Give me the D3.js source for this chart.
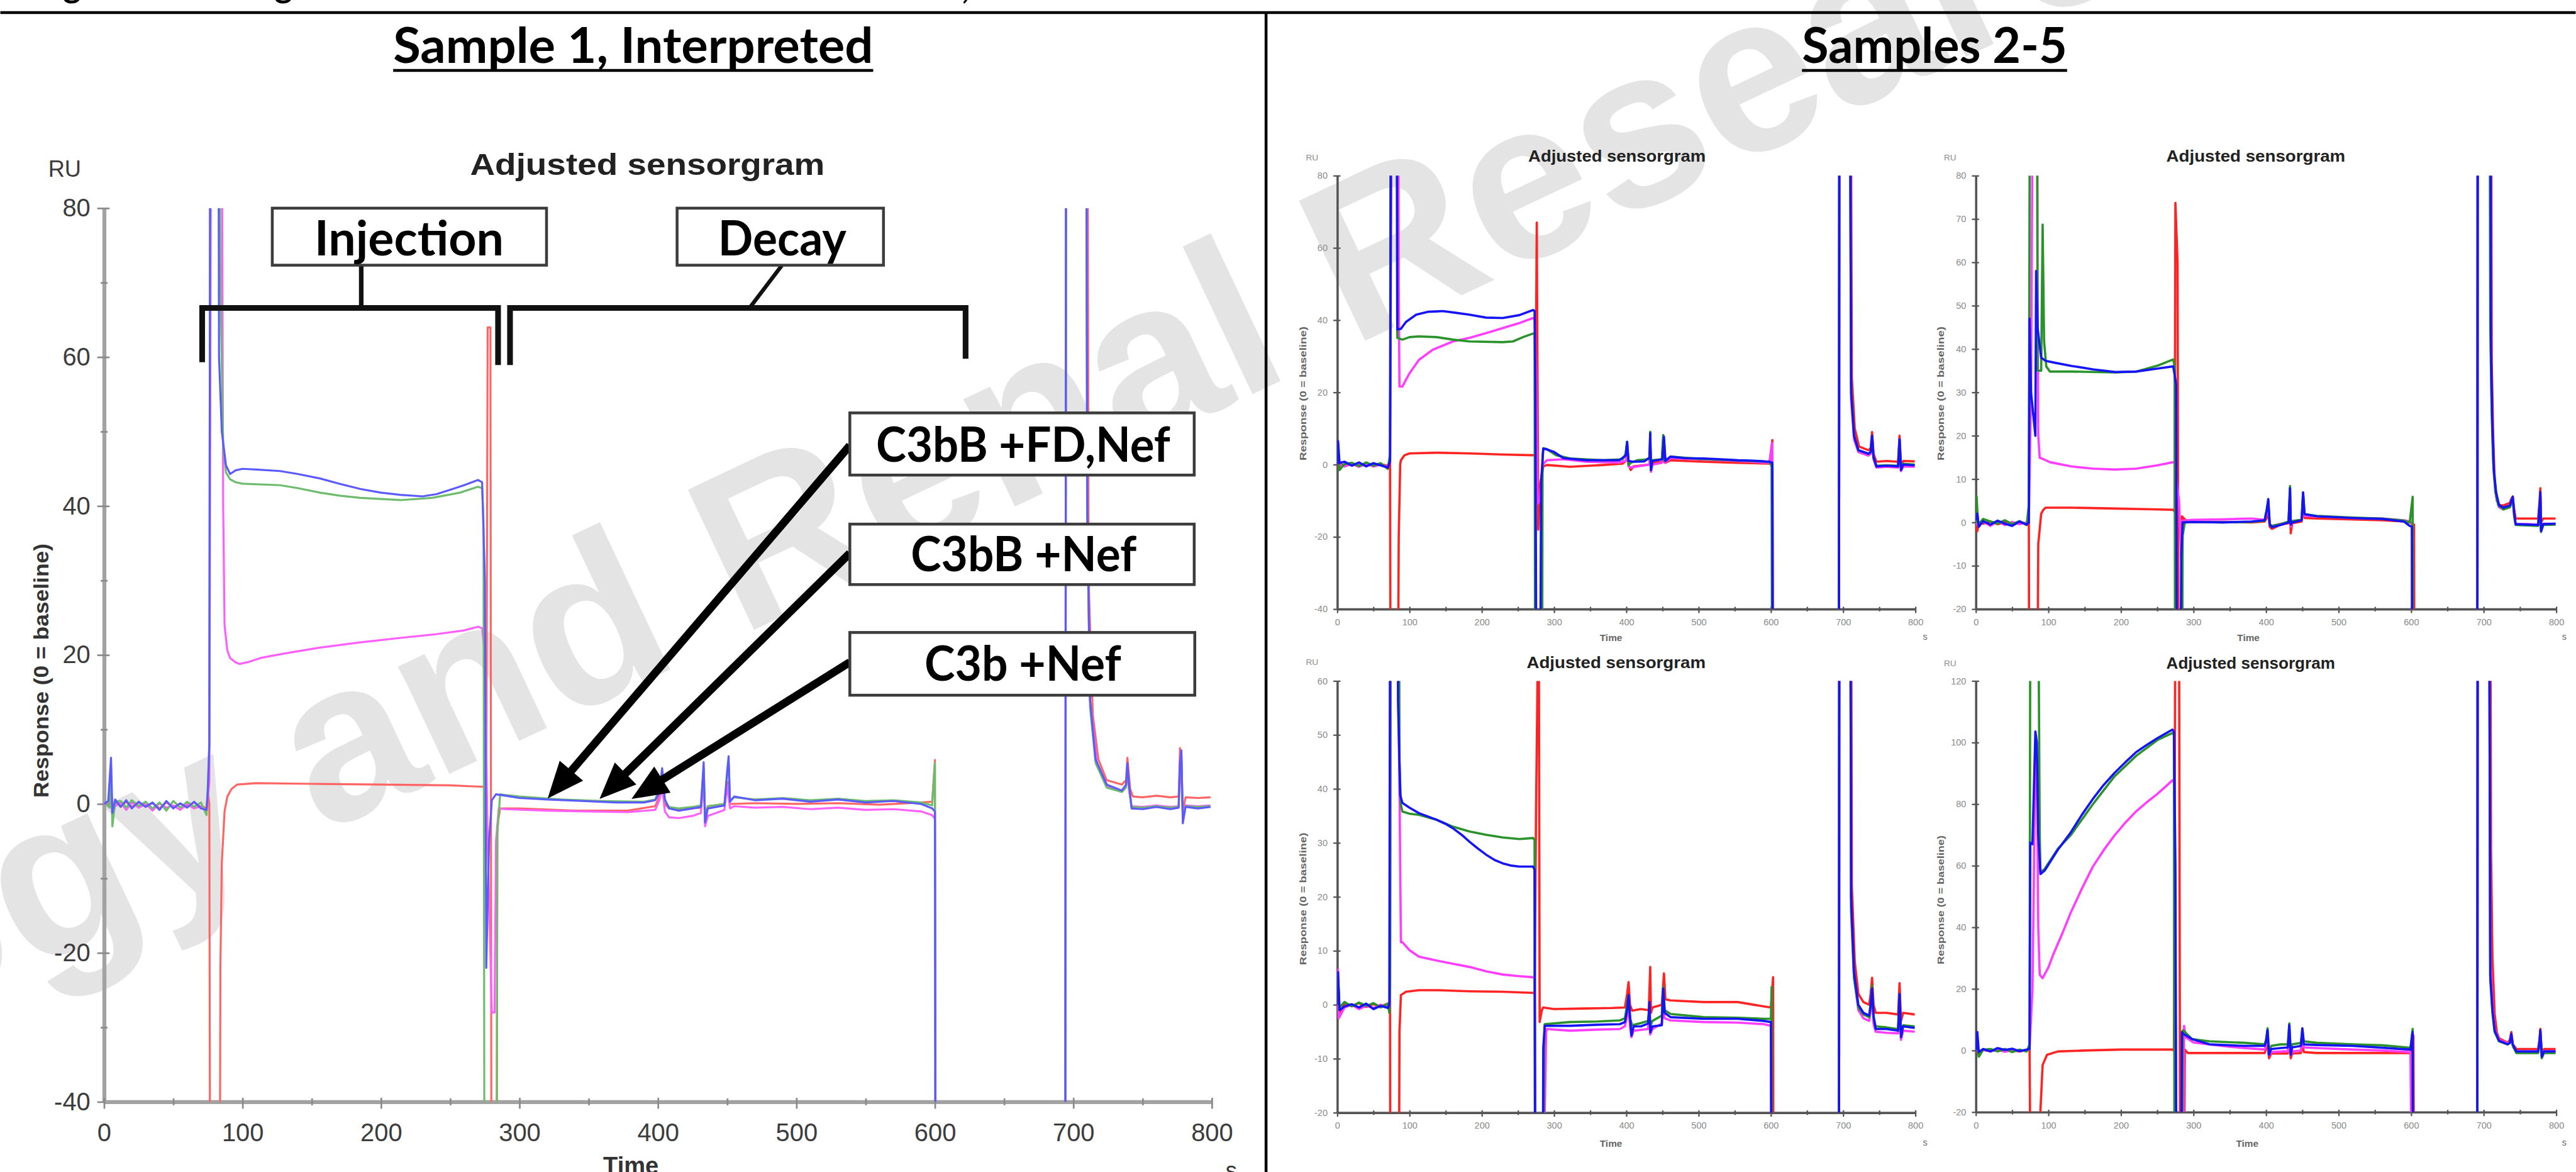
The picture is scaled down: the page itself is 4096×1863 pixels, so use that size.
<!DOCTYPE html>
<html><head><meta charset="utf-8">
<script src="https://cdn.jsdelivr.net/npm/d3@7/dist/d3.min.js"></script>
<style>html,body{margin:0;padding:0;background:#fff;overflow:hidden}</style>
</head><body>
<script>
// ---------------- DATA ----------------
const xTicks = [0,100,200,300,400,500,600,700,800];
const xMinor = [50,150,250,350,450,550,650,750];
const s1YTicks = [-40,-20,0,20,40,60,80];
const s1YMinor = [-30,-10,10,30,50,70];
const p2YTicks = [-40,-20,0,20,40,60,80];
const p3YTicks = [-20,-10,0,10,20,30,40,50,60,70,80];
const p4YTicks = [-20,-10,0,10,20,30,40,50,60];
const p5YTicks = [-20,0,20,40,60,80,100,120];
const seriesNames = ["red","magenta","green","blue"];
const boxLabels = ["Injection","Decay","C3bB +FD,Nef","C3bB +Nef","C3b +Nef"];

// Sample 1 (time s, response RU)
const s1Blue = [[0,0],[3,0.4],[5,6.2],[6,-1.2],[8,0.6],[12,-0.4],[16,0.5],[20,-0.6],[25,0.3],[30,-0.4],[35,0.2],[40,-0.8],[45,0.4],[50,-0.6],[55,0.1],[60,-0.5],[65,0.3],[70,-0.6],[74,-0.8],[75,2],[76,8],[77,150],[82,150],[83,60],[85,50],[88,45.5],[91,44.3],[95,44.8],[100,45],[110,44.9],[127,44.7],[140,44.3],[156,43.7],[170,43],[185,42.3],[200,41.8],[214,41.5],[230,41.3],[240,41.6],[250,42.2],[260,42.8],[270,43.5],[273,43.2],[275,30],[276,-22],[278,-5],[280,0.5],[283,1.3],[290,1.1],[300,0.8],[320,0.6],[345,0.4],[370,0.2],[390,0.2],[398,0.5],[401,1.5],[403,4.8],[405,0.6],[408,-0.6],[415,-0.9],[425,-0.6],[431,-0.4],[433,5.6],[434,-2.5],[436,-0.6],[448,-0.2],[450,4.5],[451,6.4],[452,0.3],[455,1],[470,0.5],[490,0.7],[510,0.3],[530,0.6],[550,0.2],[570,0.4],[590,0],[598,-0.6],[600,-1],[601,-100],[694,-100],[695,200],[708,200],[710,40],[712,14],[716,6],[724,2.6],[735,1.8],[738,2.6],[739,5.5],[740,3],[742,-0.6],[750,-0.7],[760,-0.4],[770,-0.7],[776,-0.5],[777,5.5],[778,7.2],[779,-2.6],[781,-0.4],[790,-0.6],[799,-0.4]];
const s1Green = [[0,0.2],[4,-0.5],[5,5],[6,-3],[8,0.3],[12,0.4],[16,-0.5],[20,0.5],[25,-0.3],[30,0.3],[35,-0.6],[40,0.2],[45,-0.9],[50,0.4],[55,-0.5],[60,0.3],[65,-0.4],[70,0.2],[74,-1.5],[75,3],[76,8],[77,150],[82,150],[84,70],[86,48],[88,44.5],[91,43.6],[95,43.2],[100,43],[127,42.8],[140,42.4],[156,41.8],[170,41.4],[185,41.1],[214,40.8],[237,41.1],[257,41.8],[270,42.6],[273,42.4],[274,38],[275,-100],[283,-100],[284,-4],[286,1.3],[290,1.2],[300,1],[330,0.6],[360,0.4],[390,0.3],[398,0.6],[401,2],[403,4.2],[405,0.4],[408,-0.4],[415,-0.6],[425,-0.4],[431,-0.2],[433,4.8],[434,-1.8],[436,-0.3],[448,0],[450,4],[451,5.6],[452,0.4],[455,0.9],[470,0.6],[490,0.8],[510,0.5],[530,0.7],[550,0.4],[570,0.5],[590,0.2],[598,-0.2],[600,5.5],[600.5,-100],[694,-100],[695,200],[708,200],[710,38],[712,13],[716,5.5],[724,2.2],[735,1.6],[738,2.2],[739,5],[740,2.5],[742,-0.4],[750,-0.5],[760,-0.3],[770,-0.5],[776,-0.4],[777,5],[778,6.5],[779,-2],[781,-0.3],[790,-0.4],[799,-0.3]];
const s1Magenta = [[0,-0.2],[4,0.5],[5,2],[6,-1.5],[8,-0.3],[12,0.2],[16,-0.8],[20,0.2],[25,-0.5],[30,0],[35,-0.9],[40,0.1],[45,-0.5],[50,-0.2],[55,-0.8],[60,0],[65,-0.6],[70,-0.3],[74,-0.9],[75,1],[76,3],[78,150],[84,150],[86,40],[87,24],[89,20.6],[91,19.6],[95,19],[98,18.8],[105,19.1],[113,19.6],[130,20.2],[156,21],[185,21.7],[214,22.3],[240,22.8],[260,23.3],[270,23.8],[273,23.6],[275,20],[277,-5],[280,-28],[282,-28],[283,-5],[285,-0.6],[290,-0.7],[320,-0.9],[350,-1],[378,-1.1],[398,-0.8],[401,0.5],[403,2.2],[405,-1],[408,-1.8],[415,-1.9],[425,-1.6],[431,-1.2],[433,3.5],[434,-3],[436,-1.6],[448,-0.8],[450,2.5],[452,-0.6],[455,-0.3],[470,-0.5],[490,-0.4],[510,-0.7],[530,-0.5],[550,-0.8],[570,-0.7],[590,-1],[598,-1.5],[600,-2],[601,-100],[694,-100],[695,200],[708,200],[710,40],[712,14],[717,5.5],[725,2.3],[735,1.7],[738,2.3],[739,4.8],[740,2],[742,-0.3],[750,-0.4],[760,-0.2],[770,-0.4],[776,-0.3],[777,5.2],[778,6],[779,-1.8],[781,-0.2],[790,-0.3],[799,-0.2]];
const s1Red = [[0,0],[4,0.3],[5,3.5],[6,-2],[8,0.2],[12,-0.3],[16,0.3],[20,-0.4],[25,0.2],[30,-0.3],[35,0.1],[40,-0.6],[45,0.2],[50,-0.4],[55,0],[60,-0.3],[65,0.2],[70,-0.4],[74,-0.5],[75,1.5],[76,0],[77,-100],[83,-100],[84,-22],[85,-8],[87,-1],[89,1],[92,2],[96,2.6],[110,2.8],[150,2.7],[200,2.6],[250,2.5],[274,2.3],[276,1.5],[277,64],[279,64],[280,-100],[283,-100],[284,-3],[286,-0.6],[300,-0.6],[340,-0.9],[378,-0.9],[398,-0.3],[401,1],[403,2.8],[405,0],[408,-0.6],[415,-0.7],[431,-0.5],[433,3],[434,-1.5],[436,-0.3],[448,0],[450,3],[452,0],[470,0.1],[500,0],[530,0.1],[560,-0.1],[590,0.2],[598,0.3],[600,5.9],[600.5,-100],[694,-100],[695,200],[709,200],[711,30],[714,12],[718,6],[724,3.2],[735,2.6],[738,3.2],[739,6.2],[741,2],[743,1],[750,0.9],[760,1.1],[770,0.9],[776,1],[777,7.5],[779,-1],[781,0.9],[790,0.8],[799,0.9]];

// Panel 2 (top-left small)
const p2Blue = [[0,0],[1,6.5],[3,0.5],[10,0.8],[20,-0.3],[30,0.6],[40,-0.5],[50,0.4],[60,-0.2],[70,-0.8],[73,1],[75,150],[82,150],[83,37.4],[88,37.6],[95,39.5],[109,41.5],[125,42.3],[146,42.5],[165,42],[183,41.5],[206,40.7],[229,40.6],[252,41.4],[271,42.8],[273,42.5],[274,22.5],[276,-100],[280,-100],[282,-5],[285,4.5],[290,4.2],[299,3.6],[313,1.8],[345,1.2],[390,1.2],[399,2.5],[401,6.3],[403,1],[410,0.8],[425,0.9],[432,2],[433,8.7],[434,-1.5],[436,1],[450,1.5],[452,7.7],[454,1],[461,2.2],[480,1.8],[507,1.7],[530,1.5],[554,1.2],[575,1.1],[598,0.8],[602,0.5],[603,-100],[694,-100],[695,200],[708,200],[711,20],[715,8],[721,4],[735,3],[738,3.5],[740,8],[742,2],[746,-0.5],[760,-0.3],[776,-0.5],[778,7],[780,-1.5],[783,0],[799,-0.2]];
const p2Green = [[0,0.5],[1,5],[3,-1.5],[10,0.2],[20,0.5],[30,-0.4],[40,0.6],[50,-0.3],[60,0.4],[70,-1.2],[73,3],[74,150],[82,150],[83,35.1],[90,34.6],[100,35.3],[113,35.5],[137,35.3],[160,34.6],[183,34.1],[229,33.9],[243,34.1],[257,35.3],[271,36.3],[273,36],[274,-100],[283,-100],[284,2],[285,4.5],[290,4.3],[303,2.6],[322,1.7],[368,1.2],[395,1.5],[399,3],[401,6.3],[403,-0.1],[406,0.5],[415,1.2],[432,1.5],[433,9.1],[434,-1.5],[436,1.2],[449,1.5],[451,8.2],[453,1],[461,2.2],[500,1.6],[550,1.2],[598,0.8],[601,-0.5],[602,-100],[694,-100],[695,200],[708,200],[711,22],[715,8],[721,4],[735,3],[738,3.5],[740,8],[742,2],[746,-0.3],[760,-0.2],[776,-0.3],[778,7],[780,-1],[783,0.2],[799,0]];
const p2Magenta = [[0,0],[1,3],[3,0],[10,-0.5],[20,0.2],[30,-0.6],[40,0.3],[50,-0.5],[60,0],[70,-0.5],[73,1],[76,150],[84,150],[85,50],[86,21.6],[90,21.6],[95,23.5],[100,25.3],[113,29],[132,31.8],[160,34.1],[183,35.1],[206,36.4],[229,37.8],[252,39.2],[271,40.6],[273,40.2],[275,25],[277,-10.8],[280,-10],[284,0],[290,1.2],[313,1.5],[345,0.8],[390,0.6],[399,1],[401,4],[403,-0.5],[406,-0.8],[415,-0.5],[432,0],[433,6],[434,-2],[436,0],[449,0.5],[451,7],[453,0.5],[461,1.8],[507,1.4],[554,1],[598,0.5],[602,6],[603,-100],[694,-100],[695,200],[708,200],[711,18],[715,7],[721,3.5],[735,2.5],[738,3],[740,7],[742,1.5],[746,-0.8],[760,-0.6],[776,-0.8],[778,6],[780,-1.8],[783,-0.5],[799,-0.6]];
const p2Red = [[0,0],[1,6],[2,-1],[4,0.2],[10,-0.3],[20,0.3],[30,-0.2],[40,0.2],[50,-0.4],[60,0.1],[70,-0.3],[73,1],[74,-100],[83,-100],[85,-20],[87,0],[88,1.2],[93,2.6],[100,3.1],[137,3.3],[183,3.1],[229,2.8],[271,2.6],[274,2.6],[276,67],[278,-18],[281,-5],[285,-0.5],[290,-0.1],[322,-0.6],[368,-0.1],[395,0.3],[399,1],[401,2.2],[403,0],[406,-1.5],[410,-0.5],[432,0],[433,6.3],[434,-1],[436,0.5],[450,0.8],[452,6.8],[454,0.5],[461,1.2],[507,0.8],[554,0.5],[598,0.3],[602,6.8],[603,-100],[694,-100],[695,200],[709,200],[712,24],[716,10],[722,5],[735,4],[738,4.5],[740,9],[742,3],[746,0.8],[760,1],[776,0.8],[778,8],[780,-0.5],[783,1],[799,0.9]];

// Panel 3 (top-right small)
const p3Blue = [[0,0.5],[2,2],[4,-1],[10,0.3],[20,-0.5],[30,0.4],[40,-0.3],[50,-0.8],[60,0.2],[70,-0.5],[73,0],[74,47],[76,30],[82,20],[83,58],[85,45],[90,38],[96,37.3],[110,36.8],[132,36.1],[162,35.3],[192,34.7],[221,34.8],[251,35.5],[272,36],[274,34],[276,31.8],[278,-100],[281,-100],[283,-8],[285,0],[300,0.1],[340,0],[380,0.2],[398,0.5],[401,3],[403,5.4],[405,-0.5],[408,-1.1],[420,-0.6],[431,0],[433,7.9],[434,-0.5],[436,0],[449,0.5],[451,6.9],[453,1.9],[470,1.4],[520,1],[560,0.8],[590,0.2],[598,-0.8],[601,-1],[602,-100],[691,-100],[692,200],[708,200],[710,40],[712,22],[714,12],[717,7],[721,4],[727,3.4],[736,3.9],[738,5],[740,5.9],[742,2],[744,-0.4],[760,-0.5],[775,-0.6],[777,4],[778,7],[779,-2],[782,-0.4],[799,-0.3]];
const p3Green = [[0,0],[1,6],[3,-0.5],[10,0.8],[20,0.2],[30,-0.3],[40,0.5],[50,-0.4],[60,0.3],[70,-0.6],[73,4],[75,150],[84,150],[85,35],[90,35],[92,68.7],[94,41.8],[97,36],[102,34.8],[132,34.8],[192,34.6],[221,34.8],[251,36.2],[272,37.6],[274,36],[275,-100],[283,-100],[285,-3],[288,0],[300,0.1],[340,0],[380,0.1],[398,0.4],[401,3],[403,5],[405,-0.4],[408,-0.8],[420,-0.4],[431,0.2],[433,8.4],[434,-0.3],[436,0.3],[449,0.6],[451,6.9],[453,1.9],[470,1.5],[520,1.1],[560,0.9],[590,0.4],[598,0],[602,5.9],[603,-100],[691,-100],[692,200],[707,200],[709,45],[711,25],[713,14],[716,7],[720,4],[727,3],[736,3.5],[738,4.5],[740,5.5],[742,1.5],[744,-0.6],[760,-0.7],[775,-0.8],[777,3],[778,6],[779,-2.2],[782,-0.6],[799,-0.5]];
const p3Magenta = [[0,0],[2,-0.5],[10,0.2],[20,-0.8],[30,0.3],[40,-0.6],[50,0.1],[60,-0.4],[70,0],[73,0.5],[76,30],[80,150],[84,150],[85,57],[86,20],[88,14.9],[93,14.6],[102,13.9],[132,12.9],[162,12.4],[192,12.2],[221,12.4],[251,13.2],[272,13.9],[274,13.6],[276,10.4],[280,5],[283,-8],[285,0.4],[300,0.6],[340,0.7],[380,0.9],[398,0.6],[401,2],[403,4],[405,-0.5],[408,-0.8],[420,-0.3],[431,0],[433,7],[434,-1],[436,0.3],[449,0.6],[451,6],[453,1.5],[470,1.4],[520,1],[560,0.9],[590,0.5],[598,0.2],[601,0],[602,-100],[691,-100],[692,200],[708,200],[710,35],[712,20],[714,11],[717,6],[721,3.5],[727,3],[736,3.5],[738,4.5],[740,5.5],[742,1.5],[744,-0.4],[760,-0.4],[775,-0.5],[777,3.5],[778,6.5],[779,-1.8],[782,-0.3],[799,-0.3]];
const p3Red = [[0,-0.5],[2,-2],[4,0],[10,-0.3],[20,0.2],[30,-0.4],[40,0],[50,-0.6],[60,0.1],[70,-0.3],[73,0],[74,-100],[83,-100],[86,-5],[90,2],[93,2.9],[96,3.4],[132,3.4],[192,3.2],[251,3],[272,2.9],[274,2.5],[275,73.7],[278,60],[280,-100],[282,-100],[284,1.4],[290,0.4],[300,0.1],[340,0.1],[380,0],[398,0.2],[401,1],[403,2.5],[405,-1],[408,-1.5],[420,-0.5],[431,-0.2],[433,4],[434,-2.5],[436,-0.2],[449,0.2],[451,4],[453,1],[470,0.9],[520,0.7],[560,0.5],[590,0.2],[598,0],[604,-0.5],[605,-100],[691,-100],[692,200],[709,200],[711,37],[713,20],[715,10],[718,5],[722,4],[727,3.9],[736,4.5],[738,5.4],[740,6],[742,3],[744,0.9],[760,0.9],[775,0.9],[777,5],[778,7.9],[779,0],[782,0.9],[799,0.9]];

// Panel 4 (bottom-left small)
const p4Blue = [[0,0],[1,6],[3,-1],[10,-0.3],[20,0.1],[30,-0.5],[40,0.2],[50,-0.8],[60,-0.2],[70,-0.6],[72,0],[74,150],[83,150],[84,56.3],[86,45],[87,38.9],[90,37.4],[100,36.5],[113,35.5],[137,34.3],[150,33.5],[160,32.7],[172,31.5],[183,30.2],[195,28.9],[206,27.8],[218,26.8],[229,26.2],[240,25.8],[252,25.6],[271,25.6],[273,25],[275,-100],[283,-100],[285,-8],[287,-3.9],[322,-3.9],[360,-3.7],[391,-3.6],[398,-3.2],[401,-1],[403,1.8],[405,-2],[407,-5.7],[410,-4],[420,-4],[430,-3.5],[432,0.5],[433,-5.1],[436,-4],[449,-3.8],[451,3],[453,-1.5],[461,-2.3],[507,-2.6],[554,-2.6],[590,-3],[600,-3.2],[602,-100],[694,-100],[695,200],[708,200],[711,20],[715,6],[721,0],[728,-1.5],[736,-2],[738,0],[740,3],[742,-2],[745,-4.5],[760,-4.5],[776,-4.8],[778,2],[780,-6],[783,-4],[799,-4.3]];
const p4Green = [[0,0.3],[1,5],[3,-0.5],[10,0.5],[20,-0.3],[30,0.4],[40,-0.2],[50,0.3],[60,-0.5],[70,0.2],[72,-1.5],[73,3],[74,150],[84,150],[86,45],[88,37],[90,35.8],[100,35.4],[113,35.2],[137,34.3],[160,33],[183,32.1],[206,31.5],[229,31],[252,30.7],[271,30.9],[273,30.5],[274,-100],[284,-100],[286,-8],[287,-3.6],[322,-3.2],[360,-3.1],[391,-2.9],[398,-2.5],[401,0],[403,1.8],[405,-2.5],[408,-3.8],[420,-3.4],[430,-3],[432,-0.8],[433,-4],[436,-3],[449,-2],[451,3.3],[453,-1],[461,-1.7],[507,-2.3],[554,-2.4],[590,-2.6],[600,-2.6],[601,3.3],[602,-100],[694,-100],[695,200],[708,200],[711,18],[715,5],[721,-0.5],[728,-1.8],[736,-2.3],[738,0],[740,3.5],[742,-2.5],[745,-4],[760,-4.2],[776,-4.5],[778,2],[780,-5.5],[783,-3.8],[799,-4]];
const p4Magenta = [[0,-0.5],[1,6.5],[2,-2.5],[10,-0.5],[20,0],[30,-0.8],[40,-0.2],[50,-0.6],[60,0],[70,-0.4],[73,0],[75,150],[84,150],[85,51],[86,40.2],[88,11.6],[90,11.6],[100,10.1],[113,8.9],[137,8.2],[160,7.6],[183,7],[206,6.2],[229,5.6],[252,5.3],[271,5.1],[273,4.8],[275,-100],[285,-100],[287,-20],[289,-5],[290,-4.5],[322,-4.8],[360,-4.6],[391,-4.5],[398,-4],[401,-2],[403,-0.5],[405,-4],[407,-6],[410,-4.8],[430,-4.5],[432,-2],[433,-5.5],[436,-4.5],[449,-3.5],[451,-0.5],[453,-2.5],[461,-2.9],[507,-3.2],[554,-3.3],[590,-3.6],[600,-3.9],[602,-100],[694,-100],[695,200],[708,200],[711,17],[715,5],[721,-1],[728,-2.5],[736,-3],[738,-1],[740,2],[742,-3.5],[745,-5],[760,-5.2],[776,-5.3],[778,1],[780,-6.5],[783,-4.8],[799,-5]];
const p4Red = [[0,0],[1,4.8],[3,-2],[10,0.3],[20,-0.2],[30,0.3],[40,-0.4],[50,0.1],[60,-0.3],[70,0.2],[73,0.5],[74,-100],[84,-100],[86,-5],[88,1.8],[95,2.4],[113,2.7],[137,2.7],[183,2.5],[229,2.4],[271,2.2],[273,2],[275,36],[277,60],[279,60],[280,-3.2],[283,-1],[285,-0.5],[300,-0.8],[340,-0.7],[380,-0.6],[398,-0.5],[401,2],[403,4.2],[405,0],[408,-1.1],[420,-0.8],[431,-1],[433,7],[434,-1.5],[436,-0.5],[449,0],[452,5.8],[454,1],[461,0.8],[507,0.5],[554,0.5],[590,-0.3],[600,-0.5],[603,5.1],[604,-100],[694,-100],[695,200],[709,200],[712,22],[716,8],[721,2],[728,0.5],[736,0],[738,2],[740,5],[742,0],[745,-1.5],[760,-1.5],[776,-1.8],[778,4],[780,-3],[783,-1.5],[799,-1.8]];

// Panel 5 (bottom-right small)
const p5Blue = [[0,0],[2,6],[4,-0.5],[10,0.5],[20,-0.3],[30,0.8],[40,0.2],[50,0.6],[60,-0.2],[70,0.3],[74,0.5],[75,67.5],[78,67],[82,103.6],[84,100],[86,70],[89,57.3],[95,58.5],[113,65.2],[131,70.9],[146,76.5],[161,81.6],[176,86.2],[191,90.1],[206,93.6],[221,96.9],[236,99.3],[250,101.4],[262,103],[271,104.2],[273,103.5],[275,60],[277,-100],[282,-100],[284,6],[286,5.4],[298,3.7],[322,2],[370,1.5],[398,1.5],[400,3],[402,6.6],[404,-1.4],[407,0.5],[420,0.8],[430,1],[432,8.3],[434,-1.4],[436,1],[448,1.5],[450,7.2],[452,2],[470,1.8],[519,1.5],[560,0.9],[599,0.3],[602,6],[603,-100],[691,-100],[692,300],[706,300],[709,24.6],[712,13.3],[715,6.5],[721,3.2],[733,2],[736,2.5],[738,5.4],[740,2],[745,-0.3],[760,-0.3],[775,-0.3],[777,3],[778,6.6],[780,-2],[783,-0.3],[799,-0.3]];
const p5Green = [[0,0],[2,4],[4,-2],[10,0.3],[20,0.5],[30,-0.3],[40,0.5],[50,-0.5],[60,0.3],[70,-0.3],[74,2],[75,150],[86,150],[88,70],[89,57.9],[95,59],[113,65.5],[131,70],[161,79.9],[191,89],[221,95.7],[250,100.8],[271,103.1],[273,102.5],[274,-100],[283,-100],[285,6.5],[286,6.5],[298,3.7],[322,3],[370,2.5],[398,2],[400,3.5],[402,7.2],[404,-0.5],[407,1.5],[420,2],[430,2],[432,8.8],[434,-0.5],[436,2],[448,2.5],[450,7],[452,3],[470,2.5],[519,2],[560,1.7],[599,0.9],[602,7],[603,-100],[691,-100],[692,300],[706,300],[709,23],[712,12],[715,6],[721,3],[733,2],[736,2.5],[738,5],[740,1.5],[745,-0.8],[760,-0.8],[775,-0.8],[777,2.5],[778,6],[780,-2.5],[783,-0.8],[799,-0.8]];
const p5Magenta = [[0,0],[2,1],[4,-0.5],[10,0.2],[20,-0.2],[30,0.3],[40,-0.4],[50,0.2],[60,-0.2],[70,0.1],[74,0.5],[78,20],[82,95.7],[84,95],[86,40],[88,24.6],[92,23.5],[100,27],[107,31.4],[120,38.5],[131,44.9],[146,52.5],[161,59.6],[176,65],[191,69.8],[206,74],[221,77.7],[236,80.7],[250,83.3],[262,85.8],[271,87.8],[273,87],[275,40],[277,-100],[284,-100],[287,8],[289,4.3],[300,2.6],[350,1.2],[398,0.3],[400,2],[402,5],[404,-1.5],[407,-0.5],[430,-0.2],[432,6],[434,-1.5],[436,-0.3],[448,0],[450,5.5],[452,1],[470,0.8],[519,0.3],[560,0],[599,-0.5],[603,-100],[691,-100],[692,300],[706,300],[709,30],[712,15],[715,7],[721,3.5],[733,2.3],[736,2.8],[738,5.2],[740,1.8],[745,-0.3],[760,-0.3],[775,-0.3],[777,3.5],[778,6.2],[780,-1.5],[783,-0.2],[799,-0.2]];
const p5Red = [[0,0],[2,0.5],[4,-1.5],[10,0.2],[20,-0.2],[30,0.2],[40,-0.3],[50,0.1],[60,-0.3],[70,0.2],[74,0.3],[77,-100],[88,-100],[89,-19.4],[92,-4.7],[98,-1.4],[113,-0.3],[150,0],[200,0.3],[250,0.3],[271,0.3],[273,0],[275,150],[280,150],[282,-100],[285,-100],[288,0.3],[292,-0.8],[340,-0.8],[398,-0.8],[400,0.5],[402,2.6],[404,-2.5],[407,-1],[430,-1],[432,4.3],[434,-2.5],[436,-1],[448,-0.8],[450,2.6],[452,-0.5],[470,-0.8],[550,-0.8],[599,-0.8],[603,4.9],[605,-100],[691,-100],[692,300],[708,300],[710,65],[712,30],[715,12],[718,6],[721,4],[733,2.5],[736,3.5],[738,6],[740,2],[745,0.5],[760,0.5],[775,0.5],[777,4],[778,7],[780,-1],[783,0.5],[799,0.5]];

// ---------------- DRAW ----------------
const W = 4517, H = 2055;
const svg = d3.select("body").append("svg")
  .attr("width", 4096).attr("height", 1863)
  .attr("viewBox", `0 0 ${W} ${H}`);
svg.append("rect").attr("width", W).attr("height", H).attr("fill", "#fff");
const defs = svg.append("defs");

// watermark
const wm = svg.append("g").attr("transform", "translate(2370,609) rotate(-25.3)")
  .attr("fill", "#e4e4e4").attr("font-family", "'Liberation Sans', Arial, sans-serif")
  .attr("font-weight", "bold").attr("font-size", 395);
wm.append("text").attr("x", 0).text("Research");
wm.append("text").attr("x", -110).attr("text-anchor", "end").text("Pathology and Renal");

// frame lines
svg.append("line").attr("x1", 0).attr("x2", W).attr("y1", 22).attr("y2", 22).attr("stroke", "#000").attr("stroke-width", 5);
svg.append("line").attr("x1", 2220).attr("x2", 2220).attr("y1", 22).attr("y2", H).attr("stroke", "#000").attr("stroke-width", 5);
// cut-off line of text above the frame
const cut = svg.append("g").attr("font-family", "Lato, sans-serif").attr("font-weight", "bold").attr("font-size", 60).attr("fill", "#000");
cut.append("text").attr("x", 110).attr("y", -4).text("g");
cut.append("text").attr("x", 481).attr("y", -4).text("g");
cut.append("text").attr("x", 1686).attr("y", -2).text(",");

// section titles
function heading(txt, x, w) {
  svg.append("text").attr("x", x).attr("y", 110).attr("font-family", "Lato, sans-serif")
    .attr("font-weight", "bold").attr("font-size", 86).attr("textLength", w)
    .attr("lengthAdjust", "spacingAndGlyphs").attr("fill", "#000").text(txt);
  svg.append("rect").attr("x", x).attr("y", 121).attr("width", w).attr("height", 5).attr("fill", "#000");
}
heading("Sample 1, Interpreted", 689, 842);
heading("Samples 2-5", 3160, 465);

const fmt = d => String(d);   // plain hyphen-minus like the instrument software

function drawChart(o) {
  const g = svg.append("g");
  const x = d3.scaleLinear().domain([0, 800]).range([o.x0, o.x1]);
  const y = d3.scaleLinear().domain(o.yDomain).range([o.yBot, o.yTop]);
  const id = "clip" + o.id;
  defs.append("clipPath").attr("id", id).append("rect")
    .attr("x", o.x0).attr("y", o.yTop).attr("width", o.x1 - o.x0).attr("height", o.yBot - o.yTop);
  const ff = "'Liberation Sans', Arial, sans-serif";

  // y axis
  const ya = g.append("g").attr("transform", `translate(${o.x0},0)`)
    .call(d3.axisLeft(y).tickValues(o.yTicks).tickFormat(fmt).tickSize(o.tick).tickSizeOuter(0).tickPadding(o.ypad));
  ya.select(".domain").attr("stroke", o.axisColor).attr("stroke-width", o.axisW);
  ya.selectAll(".tick line").attr("x1", o.tick * 0.8).attr("stroke", o.tickColor).attr("stroke-width", o.tickW);
  ya.selectAll(".tick text").attr("font-family", ff).attr("font-size", o.fs).attr("fill", o.labelColor);
  if (o.yMinor) {
    const ym = g.append("g").attr("transform", `translate(${o.x0},0)`)
      .call(d3.axisLeft(y).tickValues(o.yMinor).tickSize(o.minor).tickFormat(""));
    ym.select(".domain").remove();
    ym.selectAll(".tick line").attr("x1", o.minor).attr("stroke", o.tickColor).attr("stroke-width", o.tickW);
  }
  // x axis
  const xa = g.append("g").attr("transform", `translate(0,${o.yBot})`)
    .call(d3.axisBottom(x).tickValues(xTicks).tickFormat(fmt).tickSize(o.tick).tickSizeOuter(0).tickPadding(o.xpad));
  xa.select(".domain").attr("stroke", o.axisColor).attr("stroke-width", o.axisW);
  xa.selectAll(".tick line").attr("y1", -o.tick * 0.6).attr("stroke", o.tickColor).attr("stroke-width", o.tickW);
  xa.selectAll(".tick text").attr("font-family", ff).attr("font-size", o.fs).attr("fill", o.labelColor);
  const xm = g.append("g").attr("transform", `translate(0,${o.yBot})`)
    .call(d3.axisBottom(x).tickValues(xMinor).tickSize(o.minor).tickFormat(""));
  xm.select(".domain").remove();
  xm.selectAll(".tick line").attr("y1", -o.minor).attr("stroke", o.tickColor).attr("stroke-width", o.tickW);

  // series
  const line = d3.line().x(d => x(d[0])).y(d => y(d[1]));
  const lg = g.append("g").attr("clip-path", `url(#${id})`);
  seriesNames.forEach(n => {
    lg.append("path").datum(o.series[n]).attr("d", line).attr("fill", "none")
      .attr("stroke", o.colors[n]).attr("stroke-width", o.sw).attr("stroke-linejoin", "round");
  });

  // texts
  g.append("text").attr("x", o.title[0]).attr("y", o.title[1]).attr("font-family", ff)
    .attr("font-weight", "bold").attr("font-size", o.titleFs).attr("textLength", o.title[2])
    .attr("lengthAdjust", "spacingAndGlyphs").attr("fill", "#222").text("Adjusted sensorgram");
  g.append("text").attr("x", o.ru[0]).attr("y", o.ru[1]).attr("font-family", ff)
    .attr("font-size", o.ruFs).attr("fill", o.labelColor).text("RU");
  g.append("text").attr("transform", `translate(${o.ylab[0]},${o.ylab[1]}) rotate(-90)`)
    .attr("text-anchor", "middle").attr("font-family", ff).attr("font-weight", "bold")
    .attr("font-size", o.ylab[3]).attr("textLength", o.ylab[2]).attr("lengthAdjust", "spacingAndGlyphs")
    .attr("fill", o.ylabColor).text("Response (0 = baseline)");
  g.append("text").attr("x", o.time[0]).attr("y", o.time[1]).attr("text-anchor", "middle")
    .attr("font-family", ff).attr("font-weight", "bold").attr("font-size", o.time[2])
    .attr("fill", o.ylabColor).text("Time");
  g.append("text").attr("x", o.sLab[0]).attr("y", o.sLab[1]).attr("font-family", ff)
    .attr("font-size", o.sLab[2]).attr("fill", o.ylabColor).text("s");
  return {x, y};
}

const bigColors = {blue: "#5a5aff", green: "#6cbc6c", magenta: "#ff5eff", red: "#ff6464"};
const smallColors = {blue: "#1414f4", green: "#2a922a", magenta: "#ff3cff", red: "#ff2424"};

drawChart({
  id: "s1", x0: 182, x1: 2125, yTop: 365, yBot: 1932, yDomain: [-40, 80],
  yTicks: s1YTicks, yMinor: s1YMinor, tick: 12, minor: 6, ypad: 12, xpad: 26,
  axisColor: "#a2a2a2", axisW: 7, tickColor: "#8a8a8a", tickW: 3, fs: 44, labelColor: "#3c3c3c",
  series: {blue: s1Blue, green: s1Green, magenta: s1Magenta, red: s1Red}, colors: bigColors, sw: 3.5,
  title: [824, 307, 622], titleFs: 54, ru: [84, 310], ruFs: 40, ylab: [84, 1176, 446, 37],
  ylabColor: "#333", time: [1106, 2058, 42], sLab: [2149, 2066, 40]
});

const smallBase = {tick: 7, minor: 4, ypad: 10, xpad: 10, axisColor: "#555", axisW: 4,
  tickColor: "#555", tickW: 2.5, fs: 16, labelColor: "#8a8a8a", colors: smallColors, sw: 4,
  titleFs: 28, ruFs: 15, ylabColor: "#666"};
drawChart(Object.assign({}, smallBase, {
  id: "p2", x0: 2345, x1: 3359, yTop: 308, yBot: 1068, yDomain: [-40, 80], yTicks: p2YTicks,
  series: {blue: p2Blue, green: p2Green, magenta: p2Magenta, red: p2Red},
  title: [2680, 284, 311], ru: [2290, 281], ylab: [2290, 690, 235, 17], time: [2825, 1124, 17], sLab: [3372, 1122, 16]
}));
drawChart(Object.assign({}, smallBase, {
  id: "p3", x0: 3465, x1: 4483, yTop: 308, yBot: 1068, yDomain: [-20, 80], yTicks: p3YTicks,
  series: {blue: p3Blue, green: p3Green, magenta: p3Magenta, red: p3Red},
  title: [3799, 284, 314], ru: [3409, 281], ylab: [3409, 690, 235, 17], time: [3943, 1124, 17], sLab: [4493, 1122, 16]
}));
drawChart(Object.assign({}, smallBase, {
  id: "p4", x0: 2345, x1: 3359, yTop: 1194, yBot: 1951, yDomain: [-20, 60], yTicks: p4YTicks,
  series: {blue: p4Blue, green: p4Green, magenta: p4Magenta, red: p4Red},
  title: [2677, 1171, 314], ru: [2290, 1166], ylab: [2290, 1576, 232, 17], time: [2825, 2011, 17], sLab: [3372, 2009, 16]
}));
drawChart(Object.assign({}, smallBase, {
  id: "p5", x0: 3465, x1: 4483, yTop: 1194, yBot: 1950, yDomain: [-20, 120], yTicks: p5YTicks,
  series: {blue: p5Blue, green: p5Green, magenta: p5Magenta, red: p5Red},
  title: [3799, 1173, 296], ru: [3409, 1168], ylab: [3409, 1578, 226, 17], time: [3941, 2011, 17], sLab: [4493, 2009, 16]
}));

// ---------------- ANNOTATIONS (Sample 1) ----------------
const ann = svg.append("g");
function path(d, w) {
  ann.append("path").attr("d", d).attr("fill", "none").attr("stroke", "#111")
    .attr("stroke-width", w).attr("stroke-linejoin", "miter").attr("stroke-linecap", "butt");
}
path("M354,635V540H873V640", 10);
path("M633,465V540", 8);
path("M894,640V540H1693V629", 10);
path("M1371,465L1314,540", 7);

function arrow(x1, y1, x2, y2) {
  const dx = x2 - x1, dy = y2 - y1, L = Math.hypot(dx, dy);
  const ux = dx / L, uy = dy / L, hl = 64, hw = 27;
  const bx = x2 - ux * hl, by = y2 - uy * hl;
  ann.append("line").attr("x1", x1).attr("y1", y1).attr("x2", bx + ux * 4).attr("y2", by + uy * 4)
    .attr("stroke", "#000").attr("stroke-width", 14);
  ann.append("polygon").attr("points",
    `${x2},${y2} ${bx - uy * hw},${by + ux * hw} ${bx + uy * hw},${by - ux * hw}`).attr("fill", "#000");
}
arrow(1490, 781, 960, 1400);
arrow(1490, 970, 1051, 1401);
arrow(1490, 1161, 1107, 1401);

const boxes = [
  {t: boxLabels[0], x: 477, y: 365, w: 481, h: 100, tx: 551, tb: 448, tw: 332},
  {t: boxLabels[1], x: 1187, y: 365, w: 362, h: 100, tx: 1259, tb: 448, tw: 225},
  {t: boxLabels[2], x: 1490, y: 724, w: 604, h: 109, tx: 1536, tb: 810, tw: 516},
  {t: boxLabels[3], x: 1490, y: 919, w: 604, h: 106, tx: 1597, tb: 1002, tw: 396},
  {t: boxLabels[4], x: 1490, y: 1109, w: 605, h: 110, tx: 1621, tb: 1194, tw: 345}
];
boxes.forEach(b => {
  ann.append("rect").attr("x", b.x).attr("y", b.y).attr("width", b.w).attr("height", b.h)
    .attr("fill", "#fff").attr("stroke", "#3c3c3c").attr("stroke-width", 5);
  ann.append("text").attr("x", b.tx).attr("y", b.tb).attr("font-family", "Lato, sans-serif")
    .attr("font-weight", "bold").attr("font-size", 84).attr("textLength", b.tw)
    .attr("lengthAdjust", "spacingAndGlyphs").attr("fill", "#000").text(b.t);
});
</script>
</body></html>
